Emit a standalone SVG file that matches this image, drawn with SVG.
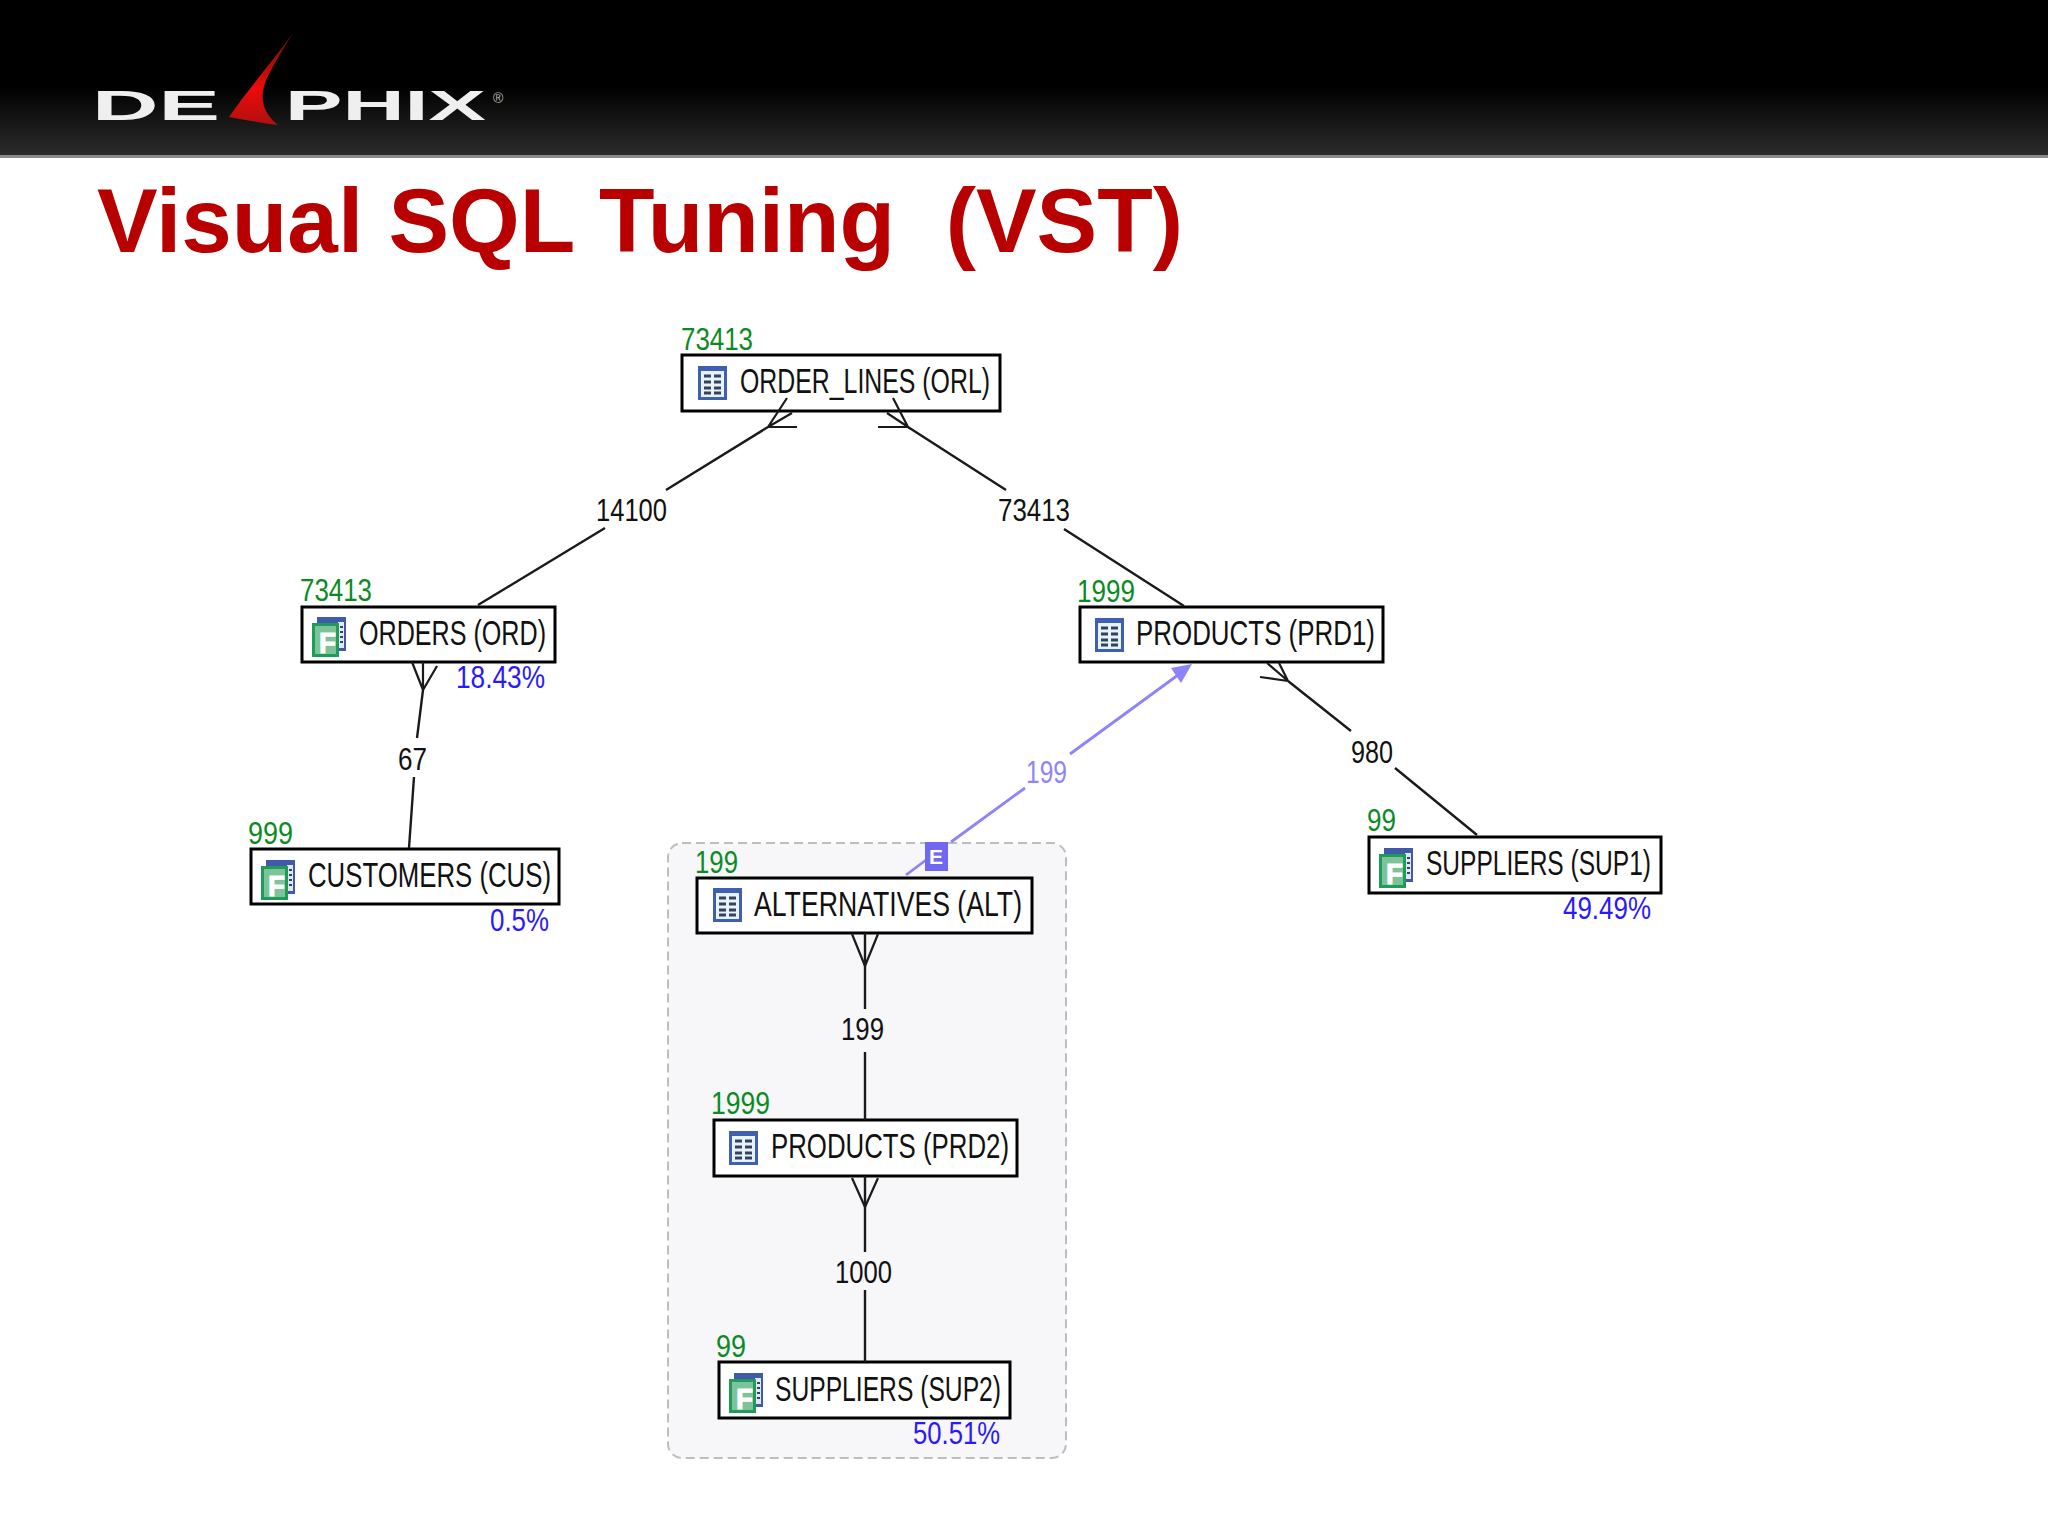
<svg xmlns="http://www.w3.org/2000/svg" xmlns:xlink="http://www.w3.org/1999/xlink" width="2048" height="1536" viewBox="0 0 2048 1536">
<style>
text{font-family:"Liberation Sans",Arial,sans-serif}
.box{fill:#fff;stroke:#000;stroke-width:3}
.name{font-size:35px;fill:#111}
.cnt{font-size:32px;fill:#0b8a24}
.pct{font-size:32px;fill:#2a18ff}
.elab{font-size:32px;fill:#111}
.edge{fill:none;stroke:#1a1a1a;stroke-width:2.4}
.foot{fill:none;stroke:#1a1a1a;stroke-width:2.2}
.blue{fill:none;stroke:#8d84fb;stroke-width:2.8}
.fl{font-size:30px;font-weight:bold;fill:#fff;stroke:#fff;stroke-width:1}
</style>
<defs>
<linearGradient id="hdr" x1="0" y1="0" x2="0" y2="1">
<stop offset="0" stop-color="#000"/><stop offset="0.55" stop-color="#000"/><stop offset="1" stop-color="#2c2c2c"/>
</linearGradient>
<linearGradient id="sail" x1="0" y1="0" x2="0" y2="1">
<stop offset="0" stop-color="#6a0d0d"/><stop offset="0.6" stop-color="#ee0a0a"/><stop offset="1" stop-color="#b01010"/>
</linearGradient>
<g id="tbl">
<rect width="29" height="34" fill="#3f5fb0"/>
<rect x="3" y="5" width="23" height="26" fill="#e8f2fa"/>
<path d="M6 10h7M16 10h7M6 16h7M16 16h7M6 22h7M16 22h7M6 27h7M16 27h7" stroke="#33435f" stroke-width="3" fill="none"/>
</g>
<g id="fact">
<rect x="5" y="0" width="29" height="34" fill="#3f5aa8"/>
<rect x="26" y="5" width="6" height="26" fill="#dfe8f4"/>
<path d="M28 10h3M28 15h3M28 20h3M28 25h3" stroke="#33435f" stroke-width="2" fill="none"/>
<rect x="1.5" y="7.5" width="24" height="31" fill="#7cc39a" stroke="#1f9c5a" stroke-width="3"/>
</g>
</defs>

<rect width="2048" height="1536" fill="#fff"/>
<g id="header">
<rect width="2048" height="156" fill="url(#hdr)"/>
<rect y="155" width="2048" height="3" fill="#8a8a8a"/>
<text x="92" y="120" font-size="43" font-weight="bold" fill="#efefef" textLength="128" lengthAdjust="spacingAndGlyphs">DE</text>
<path d="M293 33C272 62 246 92 229 117C245 120 262 123 278 125C262 112 258 96 268 76C276 60 285 46 293 33Z" fill="url(#sail)"/>
<text x="285" y="120" font-size="43" font-weight="bold" fill="#efefef" textLength="201" lengthAdjust="spacingAndGlyphs">PHIX</text>
<text x="493" y="103" font-size="14" fill="#bbb">®</text>
<text x="97" y="252" font-size="91" font-weight="bold" fill="#b80000" textLength="1086" lengthAdjust="spacingAndGlyphs" xml:space="preserve">Visual SQL Tuning  (VST)</text>
</g>

<g id="subquery-group">
<rect x="668" y="843" width="398" height="615" rx="14" fill="#f7f7f9" stroke="#bdbdc2" stroke-width="2" stroke-dasharray="9 5"/>
</g>

<g id="node-orl">
<rect class="box" x="682" y="355" width="318" height="56"/>
<use xlink:href="#tbl" href="#tbl" x="698" y="366"/>
<text class="name" x="740" y="393" textLength="250" lengthAdjust="spacingAndGlyphs">ORDER_LINES (ORL)</text>
<text class="cnt" x="681" y="350" textLength="72" lengthAdjust="spacingAndGlyphs">73413</text>
</g>
<g id="node-ord">
<rect class="box" x="302" y="607" width="253" height="55"/>
<use xlink:href="#fact" href="#fact" x="312" y="617"/>
<text class="fl" x="319" y="653" textLength="17" lengthAdjust="spacingAndGlyphs">F</text>
<text class="name" x="359" y="645" textLength="187" lengthAdjust="spacingAndGlyphs">ORDERS (ORD)</text>
<text class="cnt" x="300" y="601" textLength="72" lengthAdjust="spacingAndGlyphs">73413</text>
<text class="pct" x="456" y="688" textLength="89" lengthAdjust="spacingAndGlyphs">18.43%</text>
</g>
<g id="node-prd1">
<rect class="box" x="1080" y="607" width="303" height="55"/>
<use xlink:href="#tbl" href="#tbl" x="1095" y="618"/>
<text class="name" x="1136" y="645" textLength="239" lengthAdjust="spacingAndGlyphs">PRODUCTS (PRD1)</text>
<text class="cnt" x="1077" y="602" textLength="58" lengthAdjust="spacingAndGlyphs">1999</text>
</g>
<g id="node-cus">
<rect class="box" x="251" y="849" width="308" height="55"/>
<use xlink:href="#fact" href="#fact" x="261" y="860"/>
<text class="fl" x="268" y="896" textLength="17" lengthAdjust="spacingAndGlyphs">F</text>
<text class="name" x="308" y="887" textLength="243" lengthAdjust="spacingAndGlyphs">CUSTOMERS (CUS)</text>
<text class="cnt" x="248" y="844" textLength="45" lengthAdjust="spacingAndGlyphs">999</text>
<text class="pct" x="490" y="931" textLength="59" lengthAdjust="spacingAndGlyphs">0.5%</text>
</g>
<g id="node-sup1">
<rect class="box" x="1369" y="837" width="292" height="56"/>
<use xlink:href="#fact" href="#fact" x="1379" y="848"/>
<text class="fl" x="1386" y="884" textLength="17" lengthAdjust="spacingAndGlyphs">F</text>
<text class="name" x="1426" y="875" textLength="225" lengthAdjust="spacingAndGlyphs">SUPPLIERS (SUP1)</text>
<text class="cnt" x="1367" y="831" textLength="29" lengthAdjust="spacingAndGlyphs">99</text>
<text class="pct" x="1563" y="919" textLength="88" lengthAdjust="spacingAndGlyphs">49.49%</text>
</g>
<g id="node-alt">
<rect class="box" x="697" y="878" width="335" height="55"/>
<use xlink:href="#tbl" href="#tbl" x="713" y="888"/>
<text class="name" x="754" y="916" textLength="268" lengthAdjust="spacingAndGlyphs">ALTERNATIVES (ALT)</text>
<text class="cnt" x="695" y="873" textLength="43" lengthAdjust="spacingAndGlyphs">199</text>
</g>
<g id="node-prd2">
<rect class="box" x="714" y="1120" width="303" height="56"/>
<use xlink:href="#tbl" href="#tbl" x="729" y="1131"/>
<text class="name" x="771" y="1158" textLength="238" lengthAdjust="spacingAndGlyphs">PRODUCTS (PRD2)</text>
<text class="cnt" x="711" y="1114" textLength="59" lengthAdjust="spacingAndGlyphs">1999</text>
</g>
<g id="node-sup2">
<rect class="box" x="719" y="1362" width="291" height="56"/>
<use xlink:href="#fact" href="#fact" x="729" y="1373"/>
<text class="fl" x="736" y="1409" textLength="17" lengthAdjust="spacingAndGlyphs">F</text>
<text class="name" x="775" y="1401" textLength="226" lengthAdjust="spacingAndGlyphs">SUPPLIERS (SUP2)</text>
<text class="cnt" x="716" y="1357" textLength="30" lengthAdjust="spacingAndGlyphs">99</text>
<text class="pct" x="913" y="1444" textLength="87" lengthAdjust="spacingAndGlyphs">50.51%</text>
</g>

<g id="connectors">
<path class="edge" d="M768 427L666 490M605 528L478 605"/>
<path class="foot" d="M787 398L768 427L792 413M768 427H797"/>
<path class="edge" d="M908 427L1006 490M1064 529L1184 606"/>
<path class="foot" d="M893 398L908 427L887 413M908 427H878"/>
<path class="edge" d="M423 690L417 738M414 777L409 848"/>
<path class="foot" d="M412 662L423 690L437 666M423 662V690"/>
<path class="edge" d="M1288 681L1351 731M1395 768L1477 835"/>
<path class="foot" d="M1267 663L1288 681L1279 663M1288 681L1260 677"/>
<path class="blue" d="M906 875L926 860M951 842L1025 788M1070 754L1178 675"/>
<path d="M1192 664L1171 668L1181 683Z" fill="#8d84fb"/>
<rect x="925" y="842" width="23" height="29" fill="#7068f0"/>
<text x="929" y="864" font-size="21" font-weight="bold" fill="#fff">E</text>
<path class="edge" d="M865 933V1009M865 1052V1120"/>
<path class="foot" d="M852 934L865 966L878 934"/>
<path class="edge" d="M865 1176V1252M865 1290V1362"/>
<path class="foot" d="M852 1178L865 1207L878 1178"/>
<text class="elab" x="596" y="521" textLength="71" lengthAdjust="spacingAndGlyphs">14100</text>
<text class="elab" x="998" y="521" textLength="72" lengthAdjust="spacingAndGlyphs">73413</text>
<text class="elab" x="398" y="770" textLength="29" lengthAdjust="spacingAndGlyphs">67</text>
<text class="elab" x="1351" y="763" textLength="42" lengthAdjust="spacingAndGlyphs">980</text>
<text class="elab" x="841" y="1040" textLength="43" lengthAdjust="spacingAndGlyphs">199</text>
<text class="elab" x="835" y="1283" textLength="57" lengthAdjust="spacingAndGlyphs">1000</text>
<text class="elab" x="1026" y="783" textLength="41" lengthAdjust="spacingAndGlyphs" style="fill:#8d84fb">199</text>
</g>
</svg>
